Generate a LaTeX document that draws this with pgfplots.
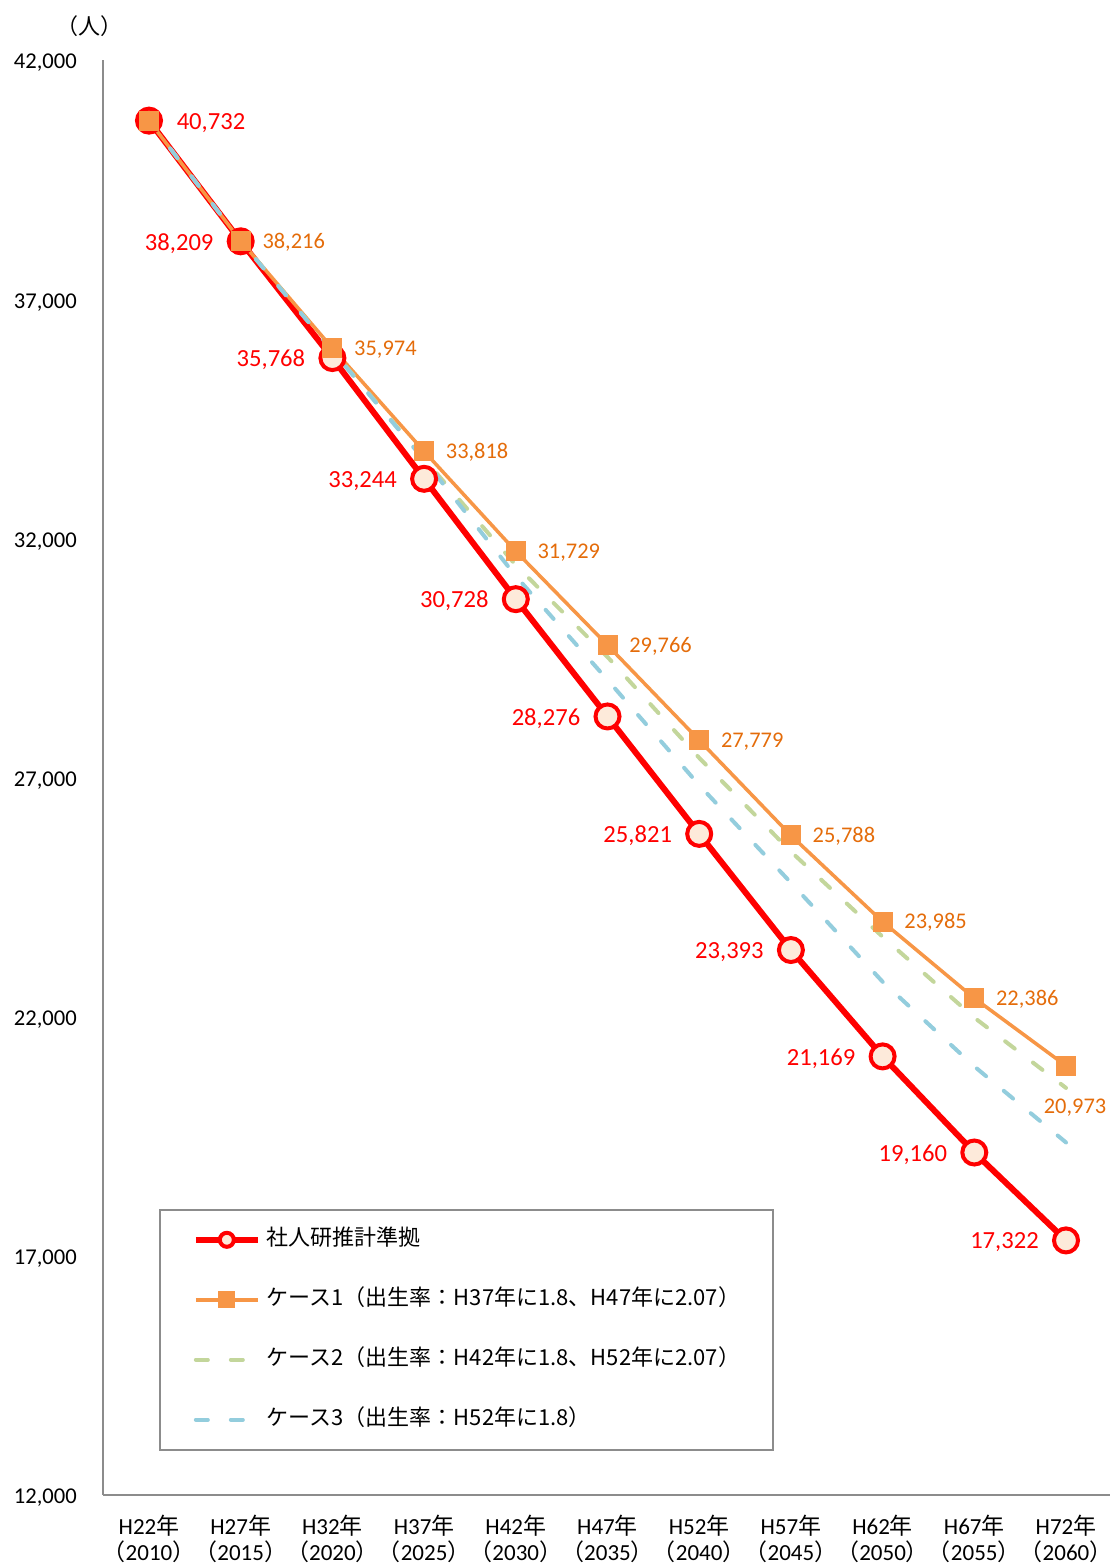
\documentclass[border=0pt]{standalone}
\usepackage{pgfplots}
\pgfplotsset{compat=1.18}
\usepackage{pgfplotstable}
\usepackage{fontspec}
\setmainfont{Carlito}
\newfontfamily\cjk{Noto Sans CJK JP}
\definecolor{cred}{HTML}{FF0000}
\definecolor{corange}{HTML}{F79646}
\definecolor{corangetxt}{HTML}{E46C0A}
\definecolor{cgreen}{HTML}{C3D69B}
\definecolor{cblue}{HTML}{93CDDD}
\definecolor{cfill}{HTML}{FDEADA}
\definecolor{axisgray}{HTML}{8C8C8C}

\pgfplotstableread{
x y
0 40732
1 38209
2 35768
3 33244
4 30728
5 28276
6 25821
7 23393
8 21169
9 19160
10 17322
}\tred
\pgfplotstableread{
x y
0 40732
1 38216
2 35974
3 33818
4 31729
5 29766
6 27779
7 25788
8 23985
9 22386
10 20973
}\torange
\pgfplotstableread{
x y
0 40732
1 38216
2 35930
3 33660
4 31440
5 29520
6 27410
7 25450
8 23670
9 21980
10 20510
}\tgreen
\pgfplotstableread{
x y
0 40732
1 38216
2 35920
3 33640
4 31210
5 29040
6 26840
7 24800
8 22730
9 20960
10 19370
}\tblue

\newcommand{\xl}[2]{H#1{\cjk 年}\\\makebox[0.55em][r]{\cjk （}#2\makebox[0.55em][l]{\cjk ）}}

\begin{document}
\begin{tikzpicture}
\useasboundingbox (-51.575pt,-36pt) rectangle (502.925pt,747.5pt);
\begin{axis}[
  scale only axis, width=504.35pt, height=717.5pt,
  xmin=-0.5, xmax=10.5, ymin=12000, ymax=42000,
  clip=false,
  axis lines=left,
  axis line style={draw=axisgray, line width=0.9pt, -},
  major tick length=0pt,
  xtick={0,...,10},
  xticklabels={{\xl{22}{2010}},{\xl{27}{2015}},{\xl{32}{2020}},{\xl{37}{2025}},{\xl{42}{2030}},{\xl{47}{2035}},{\xl{52}{2040}},{\xl{57}{2045}},{\xl{62}{2050}},{\xl{67}{2055}},{\xl{72}{2060}}},
  xticklabel style={font=\fontsize{11.5}{13}\selectfont, align=center, anchor=north, inner sep=0pt, yshift=-10pt},
  ytick={12000,17000,...,42000},
  scaled y ticks=false,
  yticklabel style={font=\fontsize{11.3}{13}\selectfont, anchor=east, inner sep=0pt, xshift=-13pt, yshift=-1.5pt},
  /pgf/number format/1000 sep={,},
  /pgf/number format/fixed,
  /pgf/number format/precision=0,
  /pgf/number format/assume math mode=true,
  legend image code/.code={\draw[mark repeat=2,mark phase=2,#1] plot coordinates {(0pt,0pt) (15.5pt,0pt) (31pt,0pt)};},
  legend cell align=left,
  legend style={at={(0.0554,0.1993)}, anchor=north west, draw=axisgray, line width=0.8pt, fill=white,
    inner xsep=16.5pt, inner ysep=10pt, row sep=20pt, column sep=3pt,
    font=\cjk\fontsize{11}{13}\selectfont,
    nodes={inner sep=0pt, text height=8pt, text depth=2pt}},
]
\addplot[cred, line width=3pt, mark=*, mark size=6pt,
  mark options={fill=cfill, draw=cred, line width=2pt, solid},
  legend image post style={mark size=3.5pt},
  nodes near coords,
  every node near coord/.append style={anchor=center, xshift=-30.75pt, yshift=-1pt, inner sep=0pt, text=cred, font=\fontsize{12.3}{14}\selectfont},
  coordinate style/.condition={\coordindex==0}{xshift=61.75pt}]
  table[x=x, y=y] {\tred};
\addlegendentry{社人研推計準拠}
\addplot[corange, line width=1.75pt, mark=square*, mark size=4.75pt,
  mark options={fill=corange, draw=corange, line width=0pt, solid},
  legend image post style={mark size=4pt}]
  table[x=x, y=y] {\torange};
\addlegendentry{ケース1（出生率：H37年に1.8、H47年に2.07）}
\addplot[cgreen, line width=2pt, line cap=round, dash pattern=on 6pt off 11.5pt, mark=none]
  table[x=x, y=y] {\tgreen};
\addlegendentry{ケース2（出生率：H42年に1.8、H52年に2.07）}
\addplot[cblue, line width=2pt, line cap=round, dash pattern=on 6pt off 11.5pt, mark=none]
  table[x=x, y=y] {\tblue};
\addlegendentry{ケース3（出生率：H52年に1.8）}
% labels of the orange series (H27 onwards), read from the same table
\addplot[draw=none, mark=none, forget plot,
  skip coords between index={0}{1},
  nodes near coords,
  every node near coord/.append style={anchor=center, xshift=26.5pt, yshift=-0.5pt, inner sep=0pt, text=corangetxt, font=\fontsize{11.2}{13}\selectfont},
  coordinate style/.condition={\coordindex==10}{xshift=-22pt, yshift=-20.5pt}]
  table[x=x, y=y] {\torange};
\end{axis}
\node[font=\cjk\fontsize{11}{13}\selectfont] at (-6.6pt,734.5pt) {（人）};
\end{tikzpicture}
\end{document}
